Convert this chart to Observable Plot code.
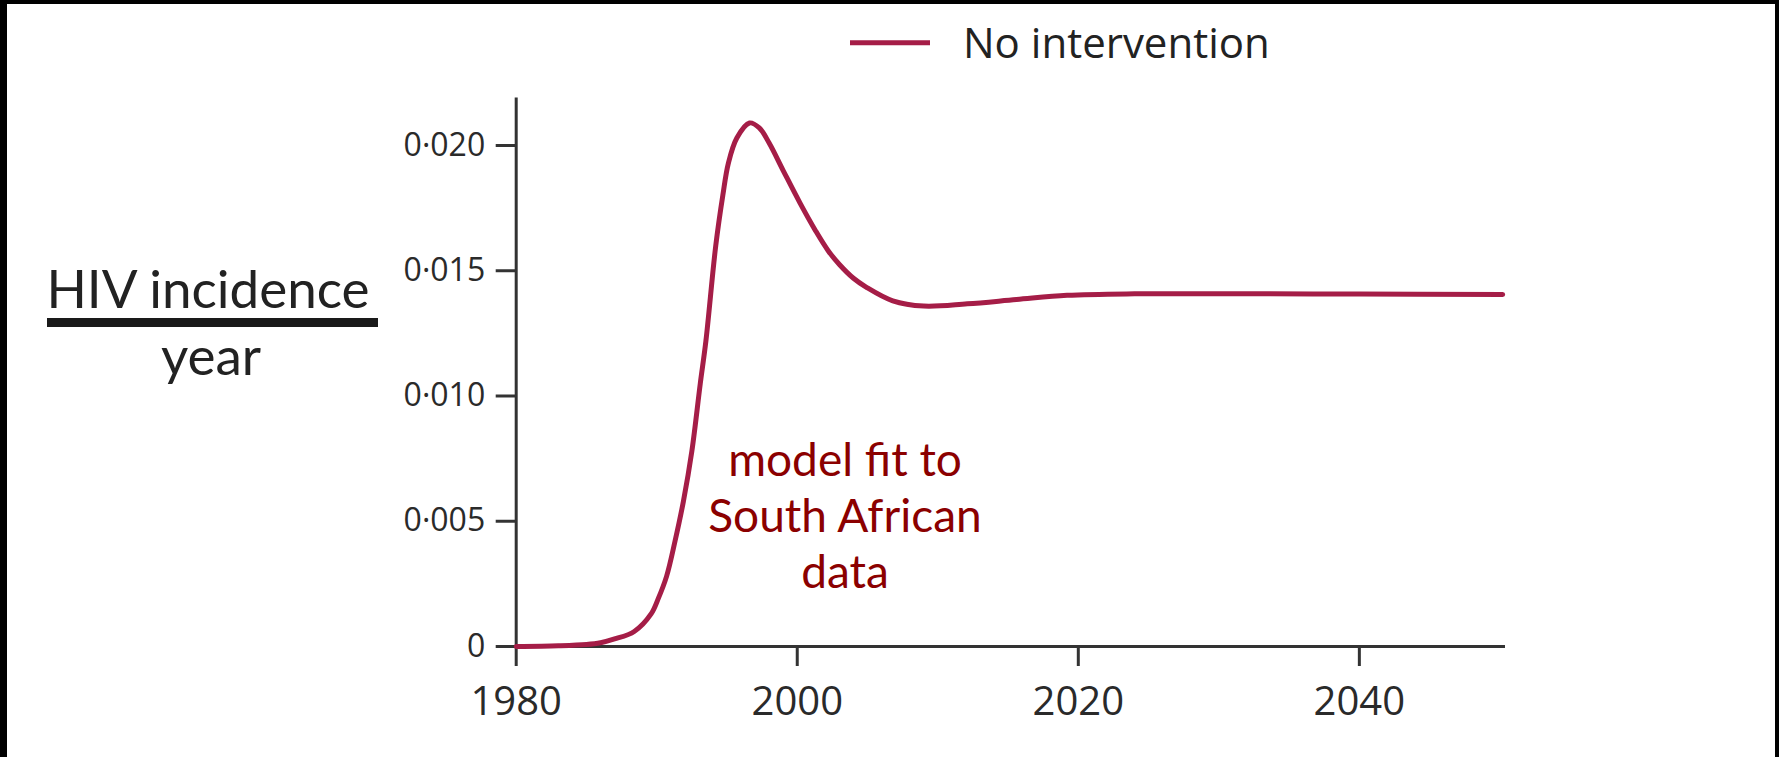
<!DOCTYPE html>
<html>
<head>
<meta charset="utf-8">
<script src="https://cdn.jsdelivr.net/npm/d3@7"></script>
<script src="https://cdn.jsdelivr.net/npm/@observablehq/plot@0.6"></script>
<style>
  html, body { margin: 0; padding: 0; background: #000; }
  #page {
    position: absolute; left: 7px; top: 4px;
    width: 1768px; height: 753px;
    background: #fff; overflow: hidden;
    font-family: "Open Sans", sans-serif;
  }
  #chart, #overlay { position: absolute; left: 0; top: 0; }
  #overlay { pointer-events: none; }
</style>
</head>
<body>
<div id="page">
  <div id="chart"></div>
  <svg id="overlay" width="1768" height="753"></svg>
</div>
<script>
// Modelled HIV incidence per year, no intervention scenario
const years = [
  1980, 1983, 1985, 1986, 1987, 1988.4, 1989.6, 1990.1, 1990.7, 1991.3,
  1991.9, 1992.5, 1993.1, 1993.5, 1994.2, 1994.7, 1995.1, 1995.7, 1996.6, 1997.3,
  1998.0, 1999.0, 2000.2, 2001.3, 2002.2, 2003.0, 2004.0, 2004.9, 2006.8, 2009.0,
  2012.1, 2015.6, 2019.2, 2024, 2030, 2040, 2050.2
];
const incidence = [
  0, 0.00003, 0.00008, 0.00015, 0.0003, 0.0006, 0.0013, 0.0019, 0.0028, 0.0042,
  0.0058, 0.0078, 0.0105, 0.0122, 0.0160, 0.0180, 0.0193, 0.0203, 0.0209, 0.0207,
  0.0201, 0.0190, 0.0177, 0.0166, 0.0158, 0.01525, 0.0147, 0.01435, 0.0138, 0.01359,
  0.01368, 0.01385, 0.01402, 0.01408, 0.01408, 0.01407, 0.01405
];

const xTicks = [1980, 2000, 2020, 2040];
const yTicks = [0, 0.005, 0.010, 0.015, 0.020];

const seriesName = "No intervention";
const annotationText = ["model fit to\nSouth African\ndata"];
const annotationYear = [2003.4];
const annotationValue = [0.0053];

const lineColor = "#a51d47";
const axisColor = "#333333";

const data = years.map((year, i) => ({year, value: incidence[i]}));
const notes = annotationText.map((text, i) => ({text, year: annotationYear[i], value: annotationValue[i]}));

const fmtY = d => d === 0 ? "0" : d.toFixed(3).replace(".", "\u00b7");

const chart = Plot.plot({
  width: 1768,
  height: 753,
  marginLeft: 508.7,
  marginRight: 270,
  marginTop: 93.4,
  marginBottom: 111,
  x: {domain: [1980, 2050.4]},
  y: {domain: [0, 0.0219]},
  style: {fontFamily: "'Open Sans', sans-serif", background: "transparent", color: "#2a2a2a"},
  marks: [
    Plot.axisY({ticks: yTicks, tickFormat: fmtY, tickSize: 20, tickPadding: 11,
      fontSize: 32, stroke: axisColor, strokeWidth: 3, label: null}),
    Plot.axisX({ticks: xTicks, tickFormat: d => String(d), tickSize: 20, tickPadding: 20,
      fontSize: 40, stroke: axisColor, strokeWidth: 3, label: null}),
    Plot.ruleX([1980], {stroke: axisColor, strokeWidth: 3}),
    Plot.ruleY([0], {stroke: axisColor, strokeWidth: 3}),
    Plot.line(data, {x: "year", y: "value", stroke: lineColor, strokeWidth: 5, curve: "catmull-rom"}),
    Plot.text(notes, {x: "year", y: "value", text: "text", fill: "#8b0000",
      fontSize: 46, fontFamily: "Lato, 'Open Sans', sans-serif", lineHeight: 1.22, textAnchor: "middle"})
  ]
});
document.getElementById("chart").appendChild(chart);

// Legend and the fraction-style y label
const ov = d3.select("#overlay");
ov.append("line").attr("x1", 843).attr("x2", 923).attr("y1", 38.7).attr("y2", 38.7)
  .attr("stroke", lineColor).attr("stroke-width", 5);
ov.append("text").attr("x", 956).attr("y", 54).text(seriesName)
  .attr("font-family", "'Open Sans', sans-serif").attr("font-size", 42).attr("fill", "#222");

ov.append("text").attr("x", 201).attr("y", 304).attr("text-anchor", "middle").text("HIV incidence")
  .attr("font-family", "Lato, 'Open Sans', sans-serif").attr("font-size", 53).attr("fill", "#222");
ov.append("rect").attr("x", 40).attr("y", 314).attr("width", 331).attr("height", 9).attr("fill", "#1a1a1a");
ov.append("text").attr("x", 204).attr("y", 370.5).attr("text-anchor", "middle").text("year")
  .attr("font-family", "Lato, 'Open Sans', sans-serif").attr("font-size", 53).attr("fill", "#222");
</script>
</body>
</html>
